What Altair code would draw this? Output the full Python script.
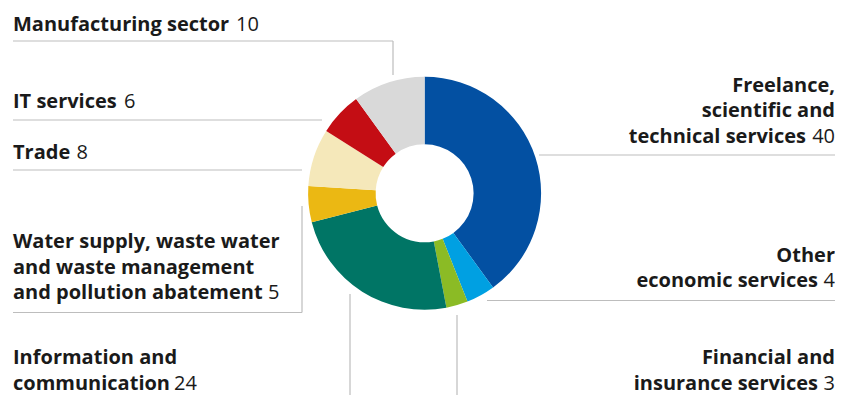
import altair as alt
import pandas as pd

# ---------------- data ----------------
categories = [
    "Freelance, scientific and technical services",
    "Other economic services",
    "Financial and insurance services",
    "Information and communication",
    "Water supply, waste water and waste management and pollution abatement",
    "Trade",
    "IT services",
    "Manufacturing sector",
]
values = [40, 4, 3, 24, 5, 8, 6, 10]
colors = ["#0350A2", "#00A0E2", "#8BBB25", "#007565", "#EBB813",
          "#F5E8BA", "#C40D14", "#D9D9D9"]

label_lines = [
    ["Freelance,", "scientific and", "technical services"],
    ["Other", "economic services"],
    ["Financial and", "insurance services"],
    ["Information and", "communication"],
    ["Water supply, waste water", "and waste management", "and pollution abatement"],
    ["Trade"],
    ["IT services"],
    ["Manufacturing sector"],
]
numbers = ["40", "4", "3", "24", "5", "8", "6", "10"]

# ---------------- layout (page pixels) ----------------
OFF = 8
CX, CY = 424.6, 193.3
R_OUT, R_IN = 116.5, 49
FONT = "Open Sans"
FS = 20
LH = 25.6
TEXT_COLOR = "#1a1a1a"
LINE_COLOR = "#BDBDBD"
RIGHT_EDGE = 835.0

# align, anchor x of text block, first baseline, x of number (left) / right end of bold last line (right)
label_layout = [
    ("right", RIGHT_EDGE, 91.7, 806.0),
    ("right", RIGHT_EDGE, 261.7, 818.0),
    ("right", RIGHT_EDGE, 364.0, 818.0),
    ("left", 13.0, 364.0, 174.0),
    ("left", 13.0, 248.0, 268.0),
    ("left", 13.0, 159.0, 76.5),
    ("left", 13.0, 108.0, 124.0),
    ("left", 13.0, 30.5, 236.0),
]

leader_segments = [
    (13, 41, 393, 41), (393, 41, 393, 75),
    (13, 120, 322, 120),
    (13, 170, 302, 170),
    (13, 312.5, 302, 312.5), (302, 206, 302, 312.5),
    (350, 294, 350, 405),
    (539, 155, 840, 155),
    (487, 300.5, 840, 300.5),
    (457, 315, 457, 405),
]

# ---------------- tables ----------------
pie_df = pd.DataFrame({"category": categories, "value": values,
                       "order": list(range(len(categories)))})

rows = []
for lines, num, (align, ax, y0, nx) in zip(label_lines, numbers, label_layout):
    n = len(lines)
    for i, line in enumerate(lines):
        last = i == n - 1
        y = y0 + i * LH
        if align == "left":
            rows.append(dict(text=line, x=ax - OFF, y=y - OFF, weight="bold", align="left"))
        else:
            x = (nx if last else ax) - OFF
            rows.append(dict(text=line, x=x, y=y - OFF, weight="bold", align="right"))
        if last:
            if align == "left":
                rows.append(dict(text=num, x=nx - OFF, y=y - OFF, weight="normal", align="left"))
            else:
                rows.append(dict(text=num, x=ax - OFF, y=y - OFF, weight="normal", align="right"))
text_df = pd.DataFrame(rows)

seg_df = pd.DataFrame([dict(x=a - OFF, y=b - OFF, x2=c - OFF, y2=d - OFF)
                       for a, b, c, d in leader_segments])

# ---------------- chart ----------------
donut = alt.Chart(pie_df).mark_arc(
    outerRadius=R_OUT, innerRadius=R_IN, x=CX - OFF, y=CY - OFF, strokeWidth=0
).encode(
    theta=alt.Theta("value:Q", stack=True),
    color=alt.Color("category:N", scale=alt.Scale(domain=categories, range=colors), legend=None),
    order=alt.Order("order:Q"),
)

rules = alt.Chart(seg_df).mark_rule(color=LINE_COLOR, strokeWidth=1.2).encode(
    x=alt.X("x:Q", scale=None), y=alt.Y("y:Q", scale=None),
    x2="x2:Q", y2="y2:Q",
)

def text_layer(weight, align):
    return alt.Chart(text_df).transform_filter(
        (alt.datum.weight == weight) & (alt.datum.align == align)
    ).mark_text(
        font=FONT, fontSize=FS, fontWeight=weight, align=align,
        baseline="alphabetic", color=TEXT_COLOR,
    ).encode(
        x=alt.X("x:Q", scale=None), y=alt.Y("y:Q", scale=None), text="text:N",
    )

chart = alt.layer(
    rules, donut,
    text_layer("bold", "left"), text_layer("bold", "right"),
    text_layer("normal", "left"), text_layer("normal", "right"),
).properties(
    width=827, height=387, padding=0, autosize="none", background="white",
).configure_view(stroke=None)

chart.save("out.html", embed_options={"renderer": "svg", "actions": False})
